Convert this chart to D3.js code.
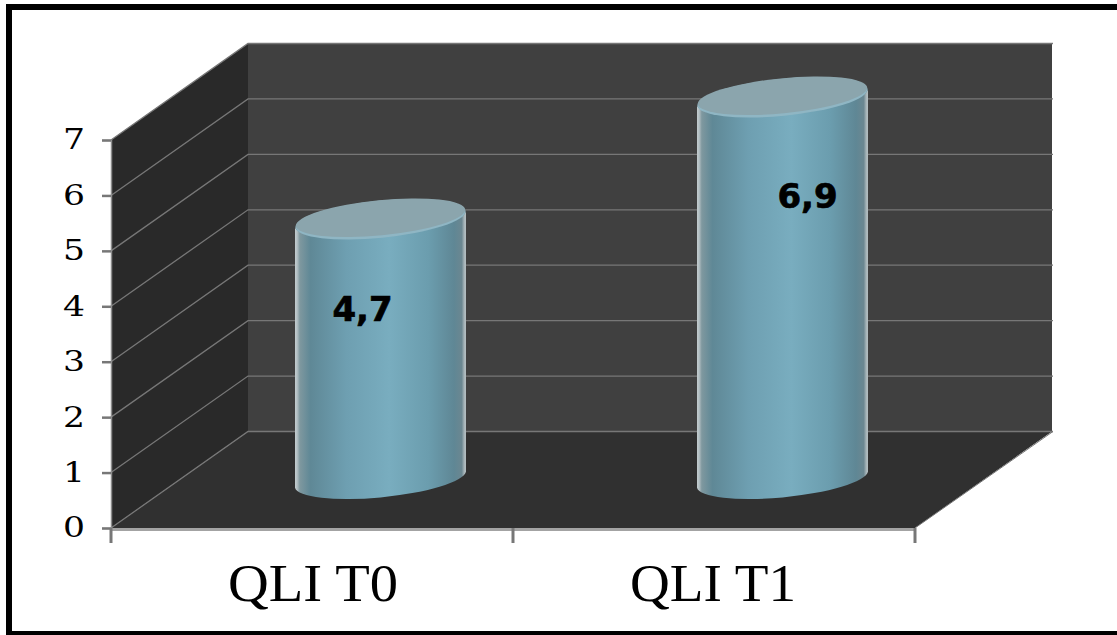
<!DOCTYPE html>
<html>
<head>
<meta charset="utf-8">
<script src="https://cdn.jsdelivr.net/npm/d3@7"></script>
<style>
  html, body { margin: 0; padding: 0; background: #fff; }
  svg { display: block; }
</style>
</head>
<body>
<div id="chart"></div>
<script>
// Chart values
const categories = ["QLI T0", "QLI T1"];
const values = [4.7, 6.9];
const valueLabels = ["4,7", "6,9"];
const yTicks = [0, 1, 2, 3, 4, 5, 6, 7];

const width = 1117;
const height = 635;

// Front plane of the 3D box and the shift to its back wall
const front = {left: 111, right: 915, bottom: 528, top: 140};
const depth = {x: 137, y: -96.5};

// Cylinder cap: semi axes, tilt, and vertical drop between its side extremes
const cap = {a: 86, b: 18.5, tilt: -5.6, skew: 8};

// Where each value label sits relative to the top of its cylinder
const labelOffset = [{x: -18, y: 102}, {x: 25, y: 111}];

// Stretched widths of the category labels
const categoryWidths = [170, 166];

const xScale = d3.scaleBand()
    .domain(categories)
    .range([front.left, front.right]);

const yScale = d3.scaleLinear()
    .domain([0, 7])
    .range([front.bottom, front.top]);

const svg = d3.select("#chart")
    .append("svg")
    .attr("width", width)
    .attr("height", height);

// Horizontal gradient for the cylinder sides
const grad = svg.append("defs").append("linearGradient")
    .attr("id", "cyl");
[
    [0, "#c2cbce"], [0.012, "#b4c0c4"], [0.028, "#7f989f"], [0.09, "#5f8896"],
    [0.3, "#6e9fb1"], [0.55, "#79adbf"], [0.78, "#6b9dae"], [0.93, "#5f8795"],
    [0.975, "#6b8791"], [0.99, "#a8b5b9"], [1, "#b4bec1"]
].forEach(s => grad.append("stop").attr("offset", s[0]).attr("stop-color", s[1]));

// Outer frame, open on the right
svg.append("path")
    .attr("d", `M${width},7H9V${height - 1}H${width}`)
    .attr("fill", "none")
    .attr("stroke", "#000")
    .attr("stroke-width", 6);

const backLeft = front.left + depth.x;
const backRight = front.right + depth.x;
const backBottom = front.bottom + depth.y;
const backTop = front.top + depth.y;

// Back wall
svg.append("rect")
    .attr("x", backLeft)
    .attr("y", backTop)
    .attr("width", backRight - backLeft)
    .attr("height", backBottom - backTop)
    .attr("fill", "#404040");

// Side wall
svg.append("path")
    .attr("d", `M${front.left},${front.bottom}V${front.top}L${backLeft},${backTop}V${backBottom}Z`)
    .attr("fill", "#292929");

// Floor
svg.append("path")
    .attr("d", `M${front.left},${front.bottom}H${front.right}L${backRight},${backBottom}H${backLeft}Z`)
    .attr("fill", "#303030");

// Gridlines run along the side wall and then across the back wall
svg.append("g")
    .selectAll("path")
    .data(yTicks)
    .join("path")
    .attr("d", d => {
        const y = yScale(d);
        return `M${front.left},${y}L${backLeft},${y + depth.y}H${backRight + 1}`;
    })
    .attr("fill", "none")
    .attr("stroke", "#777")
    .attr("stroke-width", 1.3);

// Floor edge on the right
svg.append("line")
    .attr("x1", front.right)
    .attr("y1", front.bottom)
    .attr("x2", backRight + 1)
    .attr("y2", backBottom)
    .attr("stroke", "#777")
    .attr("stroke-width", 1);

// Cylinders stand halfway into the box
const cylinders = svg.append("g")
    .selectAll("g")
    .data(categories.map((c, i) => ({category: c, value: values[i], label: valueLabels[i], offset: labelOffset[i]})))
    .join("g");

const cx = d => xScale(d.category) + xScale.bandwidth() / 2 + depth.x / 2;
const topY = d => yScale(d.value) + depth.y / 2;
const baseY = () => yScale(0) + depth.y / 2;

cylinders.append("path")
    .attr("d", d => {
        const l = cx(d) - 85.5, r = cx(d) + 85.5;
        return `M${l},${topY(d) + cap.skew}V${baseY() + cap.skew}`
            + `A${cap.a},${cap.b} ${cap.tilt} 0 0 ${r},${baseY() - cap.skew}`
            + `V${topY(d) - cap.skew}`
            + `A${cap.a},${cap.b} ${cap.tilt} 0 1 ${l},${topY(d) + cap.skew}Z`;
    })
    .attr("fill", "url(#cyl)");

// Thin bevel below the cap
cylinders.append("ellipse")
    .attr("rx", cap.a - 0.5)
    .attr("ry", cap.b)
    .attr("transform", d => `translate(${cx(d)},${topY(d)}) rotate(${cap.tilt})`)
    .attr("fill", "#8fb6c4");

cylinders.append("ellipse")
    .attr("rx", cap.a - 1)
    .attr("ry", cap.b - 1)
    .attr("transform", d => `translate(${cx(d)},${topY(d) - 1.5}) rotate(${cap.tilt})`)
    .attr("fill", "#8ba5ad");

cylinders.append("text")
    .attr("x", d => cx(d) + d.offset.x)
    .attr("y", d => topY(d) + d.offset.y)
    .attr("text-anchor", "middle")
    .attr("font-family", "'DejaVu Sans'")
    .attr("font-weight", "bold")
    .attr("font-size", 34)
    .attr("fill", "#000")
    .attr("stroke", "#000")
    .attr("stroke-width", 0.7)
    .text(d => d.label);

// Value axis on the front plane
const yAxis = svg.append("g")
    .attr("transform", `translate(${front.left},0)`)
    .call(d3.axisLeft(yScale).tickValues(yTicks).tickFormat(d3.format("d")).tickSize(9).tickPadding(17));
yAxis.select(".domain")
    .attr("stroke", "#8c8c8c")
    .attr("stroke-width", 1.5);
yAxis.selectAll(".tick line")
    .attr("stroke", "#777")
    .attr("stroke-width", 2.5);
yAxis.selectAll(".tick text")
    .attr("font-family", "'DejaVu Serif'")
    .attr("font-size", 28)
    .attr("fill", "#000")
    .attr("textLength", 22)
    .attr("lengthAdjust", "spacingAndGlyphs");

// Category axis: labels at band centres, tick marks at band edges
const xAxis = svg.append("g")
    .attr("transform", `translate(0,${front.bottom})`)
    .call(d3.axisBottom(xScale).tickSize(0).tickPadding(35));
xAxis.select(".domain").remove();
xAxis.selectAll(".tick text")
    .attr("font-family", "'Liberation Serif'")
    .attr("font-size", 53)
    .attr("fill", "#000")
    .attr("dx", (d, i) => i === 0 ? 1 : -1)
    .attr("textLength", (d, i) => categoryWidths[i])
    .attr("lengthAdjust", "spacingAndGlyphs");

xAxis.append("line")
    .attr("x1", front.left)
    .attr("x2", front.right)
    .attr("y1", 1.5)
    .attr("y2", 1.5)
    .attr("stroke", "#a3a3a3")
    .attr("stroke-width", 3);

xAxis.selectAll(".edge")
    .data([0, 1, 2])
    .join("line")
    .attr("class", "edge")
    .attr("x1", i => front.left + i * xScale.step())
    .attr("x2", i => front.left + i * xScale.step())
    .attr("y1", 0)
    .attr("y2", 15)
    .attr("stroke", "#777")
    .attr("stroke-width", 3);
</script>
</body>
</html>
